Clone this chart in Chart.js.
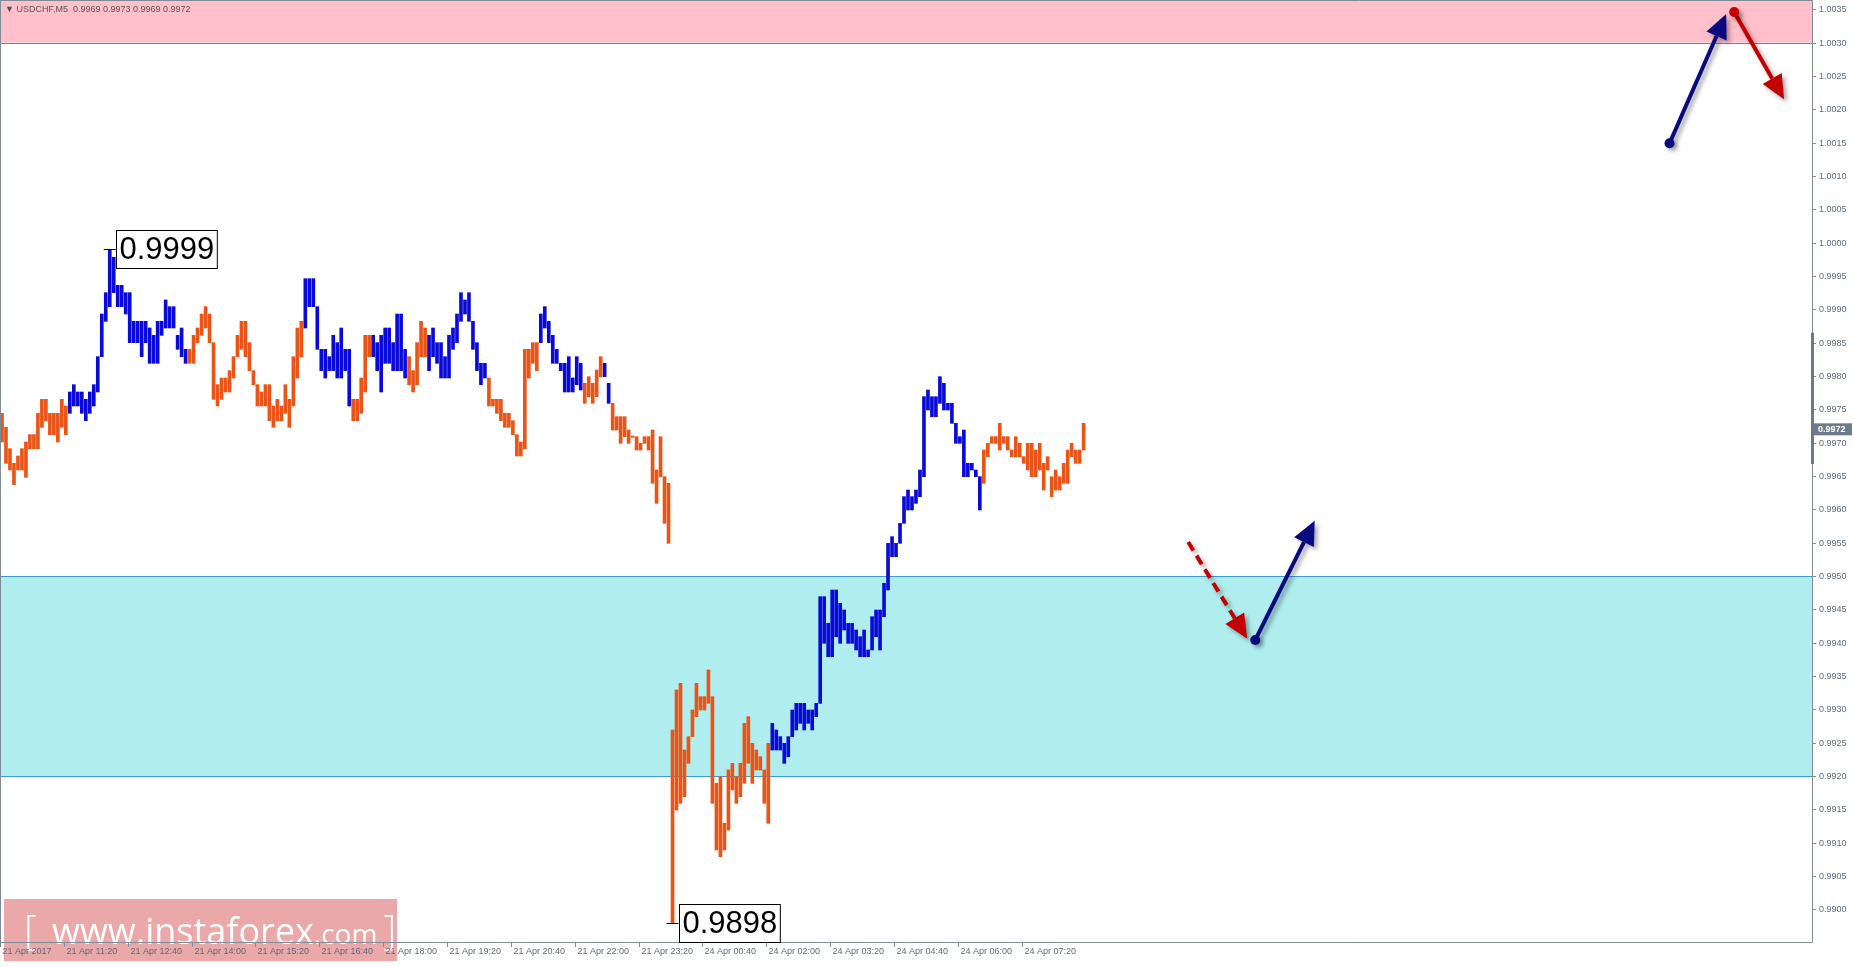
<!DOCTYPE html>
<html><head><meta charset="utf-8">
<script src="https://cdn.jsdelivr.net/npm/chart.js@4.4.0/dist/chart.umd.min.js"></script>
<style>html,body{margin:0;padding:0;background:#fff;overflow:hidden}#wrap{position:relative;width:1854px;height:967px}</style>
</head><body><div id="wrap"><canvas id="c"></canvas></div>
<script>
// Prices in pips (x 0.0001)
const highs = [9974.4,9972.3,9969.1,9966.9,9968.0,9969.1,9970.1,9971.2,9971.2,9974.4,9976.5,9976.5,9974.4,9974.4,9974.4,9976.5,9975.5,9977.6,9978.7,9977.6,
9977.6,9976.5,9977.6,9978.7,9982.9,9989.3,9992.5,9998.9,9997.8,9993.6,9993.6,9992.5,9992.5,9988.2,9988.2,9988.2,9988.2,9987.2,9986.1,9988.2,
9988.2,9991.4,9990.4,9990.4,9986.1,9987.2,9984.0,9984.0,9986.1,9987.2,9989.3,9990.4,9989.3,9985.0,9978.7,9979.7,9979.7,9980.8,9982.9,9986.1,
9988.2,9988.2,9985.0,9980.8,9978.7,9977.6,9978.7,9978.7,9975.5,9976.5,9975.5,9978.7,9976.5,9982.9,9987.2,9988.2,9994.6,9994.6,9994.6,9990.4,
9984.0,9984.0,9982.9,9986.1,9985.0,9987.2,9984.0,9984.0,9976.5,9976.5,9979.7,9986.1,9986.1,9986.1,9985.0,9986.1,9987.2,9987.2,9985.0,9989.3,
9989.3,9984.0,9982.9,9980.8,9985.0,9988.2,9987.2,9986.1,9987.2,9985.0,9985.0,9982.9,9986.1,9987.2,9989.3,9992.5,9991.4,9992.5,9988.2,9985.0,
9981.9,9981.9,9979.7,9976.5,9976.5,9976.5,9974.4,9974.4,9973.3,9971.2,9970.1,9984.0,9984.0,9985.0,9985.0,9989.3,9990.4,9988.2,9986.1,9984.0,
9981.9,9981.9,9982.9,9979.7,9982.9,9981.9,9978.9,9979.9,9978.9,9980.9,9982.9,9981.9,9978.9,9975.9,9973.9,9973.9,9973.9,9971.9,9971.0,9970.9,
9969.9,9970.9,9970.9,9971.9,9965.9,9970.9,9964.9,9963.9,9926.9,9932.9,9933.9,9923.9,9925.9,9929.9,9933.9,9931.9,9931.9,9935.9,9931.9,9918.9,
9919.9,9912.9,9920.9,9921.9,9919.9,9921.9,9927.9,9928.9,9924.9,9923.9,9922.9,9920.9,9924.9,9927.9,9926.9,9925.9,9924.9,9925.9,9929.9,9930.9,
9930.9,9930.9,9929.9,9929.9,9930.9,9946.9,9946.9,9942.9,9947.9,9947.9,9945.9,9944.9,9942.9,9942.9,9941.9,9940.9,9941.9,9938.9,9943.9,9944.9,
9944.9,9948.9,9954.9,9955.9,9954.9,9957.9,9961.9,9962.9,9961.9,9962.9,9965.9,9976.9,9977.9,9976.9,9976.9,9979.9,9978.9,9975.9,9975.9,9972.9,
9970.9,9971.9,9966.9,9966.9,9965.9,9964.9,9968.9,9969.9,9970.9,9970.9,9972.9,9970.9,9970.9,9968.9,9970.9,9969.9,9967.9,9969.9,9969.9,9968.9,
9969.9,9966.9,9967.9,9964.9,9965.9,9964.9,9966.9,9968.9,9969.9,9968.9,9968.9,9972.9];
const lows = [9970.1,9966.9,9965.9,9963.7,9965.9,9965.9,9964.8,9969.1,9969.1,9969.1,9972.3,9973.3,9971.2,9971.2,9970.1,9972.3,9971.2,9974.4,9975.5,9975.5,
9974.4,9973.3,9974.4,9975.5,9977.6,9982.9,9988.2,9990.4,9992.5,9990.4,9990.4,9989.3,9985.0,9985.0,9985.0,9982.9,9985.0,9981.9,9981.9,9981.9,
9986.1,9987.2,9987.2,9987.2,9984.0,9982.9,9981.9,9981.9,9981.9,9985.0,9986.1,9987.2,9985.0,9976.5,9975.5,9976.5,9977.6,9977.6,9979.7,9982.9,
9984.0,9982.9,9980.8,9978.7,9975.5,9975.5,9975.5,9973.3,9972.3,9973.3,9973.3,9974.4,9972.3,9975.5,9979.7,9982.9,9987.2,9990.4,9990.4,9984.0,
9980.8,9979.7,9980.8,9980.8,9979.7,9979.7,9980.8,9975.5,9973.3,9973.3,9974.4,9977.6,9982.9,9982.9,9980.8,9977.6,9981.9,9981.9,9980.8,9980.8,
9980.8,9979.7,9978.7,9977.6,9978.7,9982.9,9982.9,9980.8,9982.9,9981.9,9979.7,9979.7,9979.7,9984.0,9985.0,9988.2,9989.3,9988.2,9984.0,9980.8,
9978.7,9979.7,9975.5,9975.5,9974.4,9973.3,9972.3,9972.3,9971.2,9968.0,9968.0,9969.1,9979.7,9981.9,9980.8,9985.0,9987.2,9985.0,9981.9,9981.9,
9980.8,9977.6,9977.6,9977.6,9978.7,9977.9,9975.9,9976.9,9975.9,9976.9,9979.9,9979.9,9975.9,9971.9,9971.9,9969.9,9970.9,9969.9,9970.8,9968.9,
9968.9,9969.9,9968.9,9963.9,9960.9,9964.9,9957.9,9954.9,9897.9,9914.9,9915.9,9916.9,9921.9,9925.9,9928.9,9929.9,9929.9,9930.9,9915.9,9908.9,
9907.9,9908.9,9911.9,9917.9,9915.9,9916.9,9918.9,9921.9,9918.9,9920.9,9920.9,9915.9,9912.9,9923.9,9923.9,9923.9,9921.9,9922.9,9925.9,9926.9,
9927.9,9926.9,9927.9,9926.9,9928.9,9930.9,9939.9,9937.9,9937.9,9940.9,9939.9,9941.9,9939.9,9939.9,9938.9,9937.9,9937.9,9937.9,9938.9,9940.9,
9938.9,9943.9,9947.9,9952.9,9952.9,9954.9,9957.9,9959.9,9959.9,9960.9,9961.9,9964.9,9974.9,9973.9,9973.9,9975.9,9974.9,9974.9,9972.9,9969.9,
9969.9,9964.9,9964.9,9965.9,9964.9,9959.9,9963.9,9967.9,9969.9,9969.9,9968.9,9969.9,9968.9,9967.9,9967.9,9967.9,9966.9,9965.9,9964.9,9964.9,
9965.9,9962.9,9965.9,9961.9,9962.9,9962.9,9963.9,9963.9,9967.9,9966.9,9966.9,9968.9];
// wave colouring: bar index ranges that are up-waves (blue)
const blueRanges = [[17,46],[76,87],[93,101],[107,121],[135,145],[151,152],[193,245]];
const totalSlots = 454;
const timeLabels = ["21 Apr 2017","21 Apr 11:20","21 Apr 12:40","21 Apr 14:00","21 Apr 15:20","21 Apr 16:40","21 Apr 18:00","21 Apr 19:20","21 Apr 20:40","21 Apr 22:00","21 Apr 23:20","24 Apr 00:40","24 Apr 02:00","24 Apr 03:20","24 Apr 04:40","24 Apr 06:00","24 Apr 07:20"];
const labelEvery = 16;
const priceTicks = [1.0035,1.0030,1.0025,1.0020,1.0015,1.0010,1.0005,1.0000,0.9995,0.9990,0.9985,0.9980,0.9975,0.9970,0.9965,0.9960,0.9955,0.9950,0.9945,0.9940,0.9935,0.9930,0.9925,0.9920,0.9915,0.9910,0.9905,0.9900];
const sellZone = [1.0030, 1.0040];
const buyZone = [0.9920, 0.9950];
const lastPrice = 0.9972;
const extremes = [{bar:27, price:0.9999, text:"0.9999"},{bar:168, price:0.9898, text:"0.9898"}];
// forecast arrows: [startBar, startPrice, endBar, endPrice, colour, dashed]
const arrows = [
 [417.8,1.00149,432,1.00343,"#0a0a80",false],
 [434,1.00346,446.5,1.00215,"#c40000",false],
 [297.2,0.99551,312,0.99406,"#c40000",true],
 [314,0.99404,328.9,0.99583,"#0a0a80",false]
];

const isBlue = i => blueRanges.some(r => i>=r[0] && i<=r[1]);
const labels = Array.from({length: totalSlots}, (_, i) => i);
const barData = labels.map(i => i < highs.length ? [lows[i]/10000, highs[i]/10000] : null);
const colors = labels.map(i => isBlue(i) ? "#0a0ad8" : "#ea5416");

const deco = {
 id:'deco',
 beforeDatasetsDraw(ch){
  const {ctx, chartArea:a, scales:{x,y}} = ch;
  ctx.save();
  let y1 = y.getPixelForValue(sellZone[1]), y0 = y.getPixelForValue(sellZone[0]);
  ctx.fillStyle = "#ffc0cb"; ctx.fillRect(a.left, Math.max(a.top,y1), a.width, y0-Math.max(a.top,y1));
  ctx.strokeStyle = "#e05a5a"; ctx.lineWidth=1; ctx.beginPath(); ctx.moveTo(a.left, Math.round(y0)+0.5); ctx.lineTo(a.right, Math.round(y0)+0.5); ctx.stroke();
  y1 = y.getPixelForValue(buyZone[1]); y0 = y.getPixelForValue(buyZone[0]);
  ctx.fillStyle = "#afedee"; ctx.fillRect(a.left, y1, a.width, y0-y1);
  ctx.strokeStyle = "#3d9bd6"; ctx.beginPath();
  ctx.moveTo(a.left, Math.round(y1)+0.5); ctx.lineTo(a.right, Math.round(y1)+0.5);
  ctx.moveTo(a.left, Math.round(y0)+0.5); ctx.lineTo(a.right, Math.round(y0)+0.5); ctx.stroke();
  ctx.restore();
 },
 afterDatasetsDraw(ch){
  const {ctx, chartArea:a, scales:{x,y}} = ch;
  ctx.save();
  // watermark
  ctx.fillStyle="rgba(222,110,110,0.6)"; ctx.fillRect(4, 899, 393, 62);
  ctx.fillStyle="#fff"; ctx.textBaseline="alphabetic"; ctx.textAlign="left";
  ctx.font="300 40px 'Open Sans'"; ctx.fillText("[", 24, 944);
  ctx.font="36px 'Open Sans'"; ctx.fillText("www.instaforex", 52, 944);
  let wx = 52 + ctx.measureText("www.instaforex").width;
  ctx.font="28px 'Open Sans'"; ctx.fillText(".com", wx, 944);
  wx += ctx.measureText(".com").width + 6;
  ctx.font="300 40px 'Open Sans'"; ctx.fillText("]", wx, 944);

  ctx.strokeStyle = "#7f8b97"; ctx.lineWidth = 1;
  ctx.beginPath(); ctx.moveTo(a.left+0.5, a.bottom); ctx.lineTo(a.left+0.5, a.top+0.5); ctx.lineTo(a.right+0.5, a.top+0.5); ctx.lineTo(a.right+0.5, a.bottom+0.5); ctx.lineTo(a.left, a.bottom+0.5); ctx.stroke();
  ctx.font = "9px 'Liberation Sans'"; ctx.textBaseline = "middle"; ctx.textAlign="left";
  priceTicks.forEach(p => {
   const py = Math.round(y.getPixelForValue(p))+0.5;
   ctx.strokeStyle="#7f8b97"; ctx.beginPath(); ctx.moveTo(a.right, py); ctx.lineTo(a.right+4, py); ctx.stroke();
   ctx.fillStyle="#5a6a7a"; ctx.fillText(p.toFixed(4), a.right+7, py);
  });
  ctx.fillStyle="#6b7a89";
  const sy0 = y.getPixelForValue(0.99865), sy1 = y.getPixelForValue(0.99668);
  ctx.fillRect(a.right-1, sy0, 3, sy1-sy0);
  const ly = y.getPixelForValue(lastPrice);
  ctx.fillStyle="#6b7b8c"; ctx.fillRect(a.right+2, ly-6, 38, 12);
  ctx.fillStyle="#fff"; ctx.font="bold 9px 'Liberation Sans'"; ctx.fillText(lastPrice.toFixed(4), a.right+6, ly);
  ctx.font = "9px 'Liberation Sans'"; ctx.textBaseline="top";
  timeLabels.forEach((t,k)=>{
   const px = Math.round(x.getPixelForValue(k*labelEvery)-2)+0.5;
   ctx.strokeStyle="#7f8b97"; ctx.beginPath(); ctx.moveTo(px, a.bottom); ctx.lineTo(px, a.bottom+5); ctx.stroke();
   ctx.fillStyle="#5a6a7a"; ctx.fillText(t, px+2, a.bottom+5);
  });
  extremes.forEach(e=>{
   const px = x.getPixelForValue(e.bar), py = y.getPixelForValue(e.price);
   ctx.strokeStyle="#000"; ctx.lineWidth=1;
   ctx.beginPath(); ctx.moveTo(px-6, Math.round(py)+0.5); ctx.lineTo(px+6, Math.round(py)+0.5); ctx.stroke();
   ctx.font = "31px 'Liberation Sans'";
   const w = ctx.measureText(e.text).width + 6;
   const bx = Math.round(px+6)+0.5, by = Math.round(py-19)+0.5;
   ctx.fillStyle="#fff"; ctx.fillRect(bx,by,w,38); ctx.strokeRect(bx,by,w,38);
   ctx.fillStyle="#000"; ctx.textBaseline="middle"; ctx.textAlign="left"; ctx.fillText(e.text, bx+3, by+20);
  });
  arrows.forEach(([b0,p0,b1,p1,col,dash])=>{
   const x0=x.getPixelForValue(b0), y0=y.getPixelForValue(p0), x1=x.getPixelForValue(b1), y1=y.getPixelForValue(p1);
   const ang = Math.atan2(y1-y0, x1-x0), L=24, W=11;
   const bxp = x1 - L*Math.cos(ang), byp = y1 - L*Math.sin(ang);
   ctx.save();
   ctx.shadowColor="rgba(0,0,0,0.35)"; ctx.shadowBlur=4; ctx.shadowOffsetX=3; ctx.shadowOffsetY=3;
   ctx.strokeStyle=col; ctx.fillStyle=col; ctx.lineWidth=4; ctx.lineCap="butt";
   ctx.setLineDash(dash?[10,6]:[]);
   ctx.beginPath(); ctx.moveTo(x0,y0); ctx.lineTo(bxp,byp); ctx.stroke();
   ctx.setLineDash([]);
   ctx.beginPath(); ctx.moveTo(x1,y1);
   ctx.lineTo(bxp + W*Math.sin(ang), byp - W*Math.cos(ang));
   ctx.lineTo(bxp - W*Math.sin(ang), byp + W*Math.cos(ang)); ctx.closePath(); ctx.fill();
   if(!dash){ ctx.beginPath(); ctx.arc(x0,y0,5,0,Math.PI*2); ctx.fill(); }
   ctx.restore();
  });
  ctx.fillStyle="#555"; ctx.font="9px 'Liberation Sans'"; ctx.textBaseline="middle"; ctx.textAlign="left";
  ctx.fillText("▼ USDCHF,M5  0.9969 0.9973 0.9969 0.9972", 5, 10);
  ctx.restore();
 }
};

new Chart(document.getElementById('c'), {
 type:'bar',
 data:{labels, datasets:[{data:barData, backgroundColor:colors, barThickness:3, grouped:false, borderWidth:0}]},
 options:{
  responsive:true, maintainAspectRatio:false, animation:false, devicePixelRatio:1,
  layout:{padding:{left:0, right:42, top:0, bottom:25}},
  plugins:{legend:{display:false}, tooltip:{enabled:false}},
  scales:{
   x:{display:false, offset:true},
   y:{display:false, min:0.98951, max:1.00364}
  }
 },
 plugins:[deco]
});
</script></body></html>
